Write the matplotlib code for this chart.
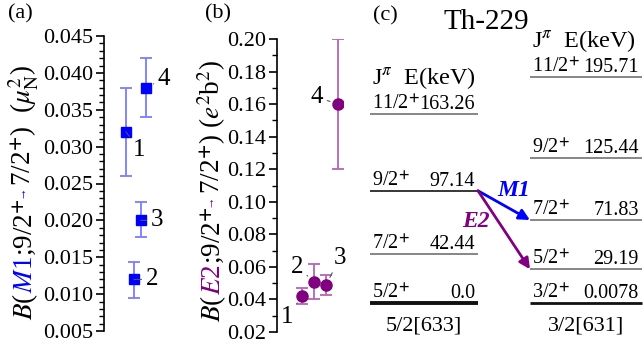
"""
Th-229: B(M1) and B(E2) values for 9/2+ -> 7/2+ plus a level scheme.
Saves out.png (644x347).
"""
import matplotlib
matplotlib.use("Agg")
import matplotlib.pyplot as plt
from matplotlib.ticker import MultipleLocator, FormatStrFormatter

plt.rcParams["font.family"] = ["Liberation Serif", "DejaVu Serif"]
plt.rcParams["mathtext.fontset"] = "stix"
plt.rcParams["font.size"] = 16

# (a) B(M1; 9/2+ -> 7/2+), mu_N^2
a_labels = ["1", "2", "3", "4"]
a_x = [1.0, 1.36, 1.68, 1.91]
a_val = [0.032, 0.012, 0.020, 0.038]
a_lo = [0.026, 0.0095, 0.0177, 0.034]
a_hi = [0.038, 0.0143, 0.0225, 0.042]

# (b) B(E2; 9/2+ -> 7/2+), e^2 b^2
b_labels = ["1", "2", "3", "4"]
b_x = [1.14, 1.68, 2.23, 2.77]
b_val = [0.042, 0.051, 0.049, 0.160]
b_lo = [0.037, 0.040, 0.043, 0.120]
b_hi = [0.047, 0.062, 0.055, 0.200]

# (c) level scheme, two rotational bands
left_spin = ["5/2", "7/2", "9/2", "11/2"]
left_E = [0.0, 42.44, 97.14, 163.26]
left_Etext = ["0.0", "42.44", "97.14", "163.26"]
right_spin = ["3/2", "5/2", "7/2", "9/2", "11/2"]
right_E = [0.0078, 29.19, 71.83, 125.44, 195.71]
right_Etext = ["0.0078", "29.19", "71.83", "125.44", "195.71"]
band_names = ["5/2[633]", "3/2[631]"]

BLUE = "#0000ff"
BLUE_ERR = "#7b7bff"
PURPLE = "#800080"
PURPLE_ERR = "#b466b4"

W, H = 644, 347
fig = plt.figure(figsize=(W / 100, H / 100), dpi=100)


def style_axis(ax):
    for s in ["top", "right", "bottom"]:
        ax.spines[s].set_visible(False)
    ax.spines["left"].set_linewidth(1.2)
    ax.set_xticks([])
    ax.tick_params(axis="y", which="major", direction="out", length=6, width=1.2,
                   labelsize=16, pad=2)
    ax.tick_params(axis="y", which="minor", direction="out", length=3.5, width=1.0)


def point_labels(ax, xs, ys, labels, offsets):
    for x, y, lab, off in zip(xs, ys, labels, offsets):
        ax.annotate(lab, xy=(x, y), xytext=off, textcoords="offset pixels",
                    ha="center", va="center", fontsize=18,
                    arrowprops=dict(arrowstyle="-", color="#555555", lw=0.8,
                                    shrinkA=1, shrinkB=6))


# ---- (a)
ax_a = fig.add_axes([104 / W, 16 / H, 66 / W, 295 / H])
ax_a.errorbar(a_x, a_val, yerr=[[v - l for v, l in zip(a_val, a_lo)],
                                [h - v for v, h in zip(a_val, a_hi)]],
              fmt="none", ecolor=BLUE_ERR, elinewidth=1.3, capsize=4, capthick=1.3)
ax_a.plot(a_x, a_val, "s", color=BLUE, ms=7.5, ls="none")
ax_a.set_xlim(0, 3)
ax_a.set_ylim(0.005, 0.045)
ax_a.yaxis.set_major_locator(MultipleLocator(0.005))
ax_a.yaxis.set_minor_locator(MultipleLocator(0.001))
ax_a.yaxis.set_major_formatter(FormatStrFormatter("%.3f"))
style_axis(ax_a)
point_labels(ax_a, a_x, a_val, a_labels, [(13, -18), (18, 0), (16, 0), (18, 9)])

# ---- (b)
ax_b = fig.add_axes([277 / W, 15 / H, 66 / W, 293 / H])
ax_b.errorbar(b_x, b_val, yerr=[[v - l for v, l in zip(b_val, b_lo)],
                                [h - v for v, h in zip(b_val, b_hi)]],
              fmt="none", ecolor=PURPLE_ERR, elinewidth=1.3, capsize=4, capthick=1.3)
ax_b.plot(b_x, b_val, "o", color=PURPLE, ms=8, ls="none")
ax_b.set_xlim(0, 3)
ax_b.set_ylim(0.02, 0.20)
ax_b.yaxis.set_major_locator(MultipleLocator(0.02))
ax_b.yaxis.set_minor_locator(MultipleLocator(0.01))
ax_b.yaxis.set_major_formatter(FormatStrFormatter("%.2f"))
style_axis(ax_b)
point_labels(ax_b, b_x, b_val, b_labels, [(-15, -21), (-17, 15), (14, 27), (-21, 7)])

# ---- (c) level scheme
ax_c = fig.add_axes([360 / W, 0, 284 / W, 1])
ax_c.set_xlim(0, 284)
ax_c.set_ylim(-38.1, 262.3)
ax_c.axis("off")

bands = [(10, 118, left_spin, left_E, left_Etext),
         (170, 282, right_spin, right_E, right_Etext)]
for (x0, x1, spins, Es, Etxt), name in zip(bands, band_names):
    for i, (sp, E, et) in enumerate(zip(spins, Es, Etxt)):
        if i == 0:
            lw, col = (2.8 if x0 < 100 else 2.0), "#111111"
        else:
            lw, col = 1.1, ("#000000" if sp == "9/2" and x0 < 100 else "#666666")
        ax_c.plot([x0, x1], [E, E], color=col, lw=lw, solid_capstyle="butt")
        ax_c.annotate(sp + r"$^{\mathbf{+}}$", xy=(x0, E), xytext=(2, 5),
                      textcoords="offset pixels", ha="left", va="baseline", fontsize=14.5)
        ax_c.annotate(et, xy=(x1, E), xytext=(-3, 5),
                      textcoords="offset pixels", ha="right", va="baseline", fontsize=14.5)
    ax_c.annotate(r"J$^{\pi}$  E(keV)", xy=(x0, Es[-1]), xytext=(2, 30),
                  textcoords="offset pixels", ha="left", va="baseline", fontsize=17.5)
    ax_c.annotate(name, xy=((x0 + x1) / 2, Es[0]), xytext=(0, -23),
                  textcoords="offset pixels", ha="center", va="center", fontsize=16)

# transitions from 9/2+ (left band) into the right band
start = (118, left_E[2])
for target, col, lab, off in [(right_E[2], BLUE, "M1", (10, 15)),
                              (right_E[1], PURPLE, "E2", (-28, 9))]:
    end = (170, target)
    ax_c.annotate("", xy=end, xytext=start,
                  arrowprops=dict(arrowstyle="-|>", color=col, lw=2, mutation_scale=16,
                                  shrinkA=0, shrinkB=0))
    mid = ((start[0] + end[0]) / 2, (start[1] + end[1]) / 2)
    ax_c.annotate(lab, xy=mid, xytext=off, textcoords="offset pixels", ha="center",
                  va="center", color=col, fontsize=17, fontweight="bold", fontstyle="italic")

# panel tags and title
fig.text(20 / W, 1 - 14 / H, "(a)", ha="center", va="center", fontsize=16)
fig.text(218 / W, 1 - 14 / H, "(b)", ha="center", va="center", fontsize=16)
fig.text(385 / W, 1 - 16 / H, "(c)", ha="center", va="center", fontsize=16)
fig.text(486 / W, 1 - 22 / H, "Th-229", ha="center", va="center", fontsize=21)


def rich_ylabel(x_px, y_px, pieces):
    """Vertical label made of coloured pieces, stacked along one baseline."""
    renderer = fig.canvas.get_renderer()
    y = y_px
    for s, color, fs, lift in pieces:
        t = fig.text((x_px - lift) / W, y / H, s, color=color, fontsize=fs, rotation=90,
                     rotation_mode="anchor", ha="left", va="baseline")
        y += t.get_window_extent(renderer).height


rich_ylabel(32, 27, [("$B$(", "k", 19.5, 0), ("$M$1", BLUE, 19.5, 0),
                     (r";9/2$^{\mathbf{+}}$", "k", 19.5, 0), ("\u2192", BLUE, 9, 7),
                     (r"7/2$^{\mathbf{+}}$)  ($\mu_{\rm N}^{2}$)", "k", 19.5, 0)])
rich_ylabel(220, 25, [("$B$(", "k", 19.5, 0), ("$E$2", PURPLE, 19.5, 0),
                      (r";9/2$^{\mathbf{+}}$", "k", 19.5, 0), ("\u2192", PURPLE, 9, 7),
                      (r"7/2$^{\mathbf{+}}$) ($e^{2}$b$^{2}$)", "k", 19.5, 0)])

fig.savefig("out.png", dpi=100)
